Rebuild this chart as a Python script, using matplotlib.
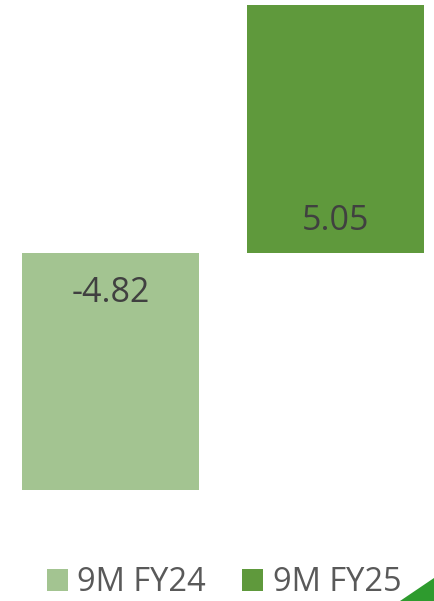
import matplotlib
matplotlib.use("Agg")
import matplotlib.pyplot as plt
from matplotlib.patches import Patch, Polygon

categories = ["9M FY24", "9M FY25"]
values = [-4.82, 5.05]
colors = ["#A3C491", "#5F993C"]
labels = ["-4.82", "5.05"]

W, H = 434, 601
fig = plt.figure(figsize=(W / 100, H / 100), dpi=100)
ax = fig.add_axes([0, 0, 1, 1])

pos = [0, 1]
ax.bar(pos, values, width=0.787, color=colors)

# scale: 225 px per x unit, 49.1 px per y unit, zero at y=253 px
ax.set_xlim(-110.5 / 225, (W - 110.5) / 225)
ax.set_ylim(-(H - 253) / 49.1, 253 / 49.1)
ax.axis("off")

for p, v, lab in zip(pos, values, labels):
    off = -40 / 49.1 if v < 0 else 32 / 49.1
    ax.text(p, off, lab, ha="center", va="center", fontsize=24.5,
            color="#404040", family="Open Sans")

handles = [Patch(facecolor=c, edgecolor="none") for c in colors]
fig.legend(handles, categories, loc="center", bbox_to_anchor=(0.516, 0.03),
           ncol=2, frameon=False, prop={"family": "Open Sans", "size": 23.5},
           labelcolor="#595959", handlelength=0.64, handleheight=0.64,
           handletextpad=0.3, columnspacing=1.1, borderpad=0, borderaxespad=0)

# decorative corner triangle
tri = Polygon([[400 / W, 0], [1, 0], [1, (601 - 578) / H]], closed=True,
              transform=fig.transFigure, facecolor="#2E9B2E", edgecolor="none")
fig.patches.append(tri)

fig.savefig("out.png", dpi=100)
